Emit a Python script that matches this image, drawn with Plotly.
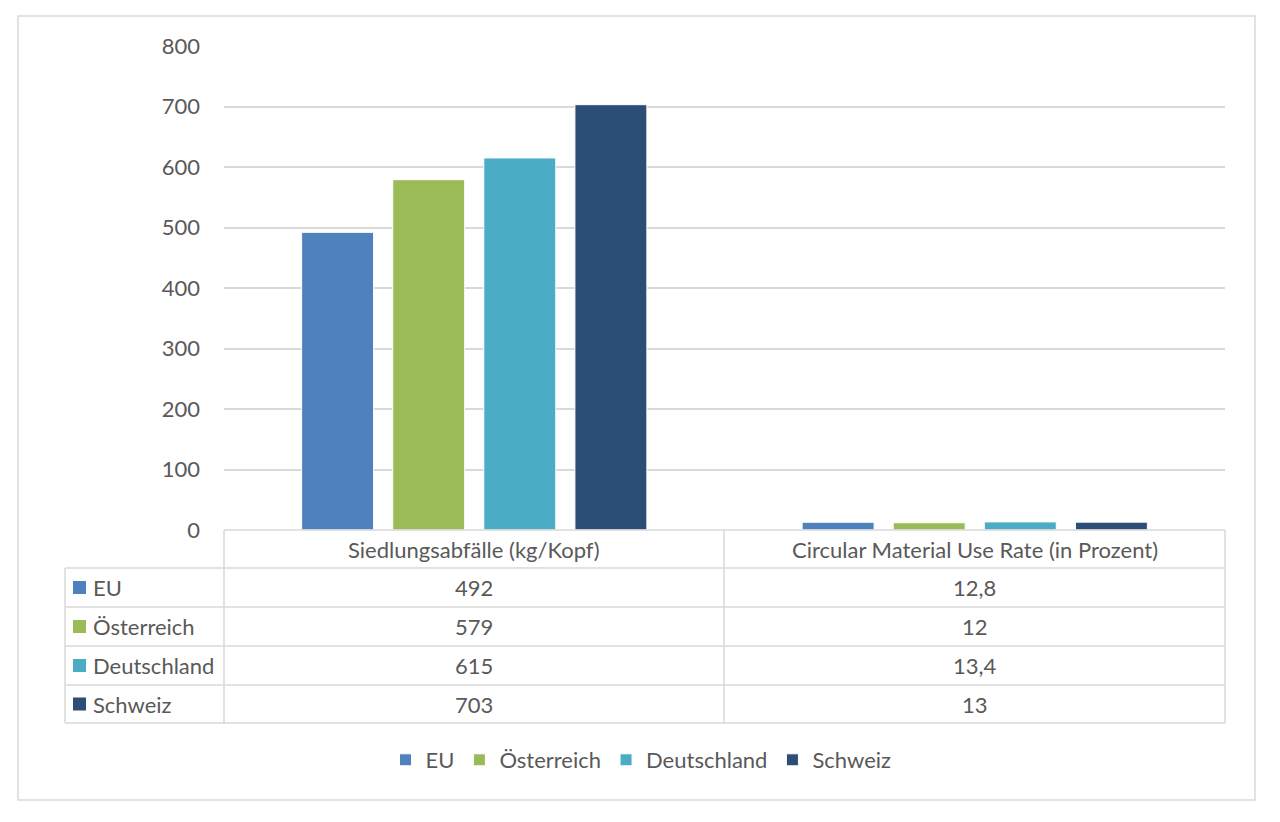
import plotly.graph_objects as go

# Daten aus der Grafik
kategorien = ["Siedlungsabfälle (kg/Kopf)", "Circular Material Use Rate (in Prozent)"]
laender = ["EU", "Österreich", "Deutschland", "Schweiz"]
eu = [492, 12.8]
oesterreich = [579, 12]
deutschland = [615, 13.4]
schweiz = [703, 13]
farben = ["#4f81bd", "#9bbb59", "#4bacc6", "#2c4d75"]

werte = [eu, oesterreich, deutschland, schweiz]

W, H = 1280, 822
OFF = 8  # Seitenrand des Browsers
PX0, PX1, PY0, PY1 = 224 - OFF, 1225 - OFF, 46 - OFF, 530 - OFF  # Plotbereich in Pixel
SCHRIFT = "Lato"
GR = 22
GRAU = "#595959"
LINIE = "#d9d9d9"


def px(x):
    return (x - OFF - PX0) / (PX1 - PX0)


def py(y):
    return (PY1 - (y - OFF)) / (PY1 - PY0)


def zahl(v):
    # deutsche Schreibweise mit Komma
    return str(v).replace(".", ",")


fig = go.Figure()
for name, w, f in zip(laender, werte, farben):
    fig.add_trace(go.Bar(x=kategorien, y=w, name=name,
                         marker=dict(color=f, line=dict(color="white", width=1))))

shapes = []
annos = []

# äußerer Rahmen
shapes.append(dict(type="rect", xref="paper", yref="paper",
                   x0=px(18), x1=px(1255), y0=py(800), y1=py(16),
                   line=dict(color=LINIE, width=1.5), layer="below"))

# Datentabelle
zeilen_y = [530, 568, 607, 646, 685, 723]
spalten_x = [224, 724, 1225]
for i, y in enumerate(zeilen_y):
    links = 224 if i == 0 else 65
    shapes.append(dict(type="line", xref="paper", yref="paper",
                       x0=px(links), x1=px(1225), y0=py(y), y1=py(y),
                       line=dict(color=LINIE, width=1.5)))
for x in spalten_x:
    shapes.append(dict(type="line", xref="paper", yref="paper",
                       x0=px(x), x1=px(x), y0=py(530), y1=py(723),
                       line=dict(color=LINIE, width=1.5)))
shapes.append(dict(type="line", xref="paper", yref="paper",
                   x0=px(65), x1=px(65), y0=py(568), y1=py(723),
                   line=dict(color=LINIE, width=1.5)))

# Spaltenköpfe
for j, k in enumerate(kategorien):
    mitte = (spalten_x[j] + spalten_x[j + 1]) / 2
    annos.append(dict(xref="paper", yref="paper", x=px(mitte), y=py(549),
                      text=k, showarrow=False, xanchor="center", yanchor="middle",
                      font=dict(family=SCHRIFT, size=GR, color=GRAU)))

# Zeilen
for i, (name, w, f) in enumerate(zip(laender, werte, farben)):
    ym = (zeilen_y[i + 1] + zeilen_y[i + 2]) / 2
    shapes.append(dict(type="rect", xref="paper", yref="paper",
                       x0=px(73), x1=px(86), y0=py(ym - 6.5), y1=py(ym + 6.5),
                       fillcolor=f, line=dict(width=0)))
    annos.append(dict(xref="paper", yref="paper", x=px(91), y=py(ym),
                      text=name, showarrow=False, xanchor="left", yanchor="middle",
                      font=dict(family=SCHRIFT, size=GR, color=GRAU)))
    for j, v in enumerate(w):
        mitte = (spalten_x[j] + spalten_x[j + 1]) / 2
        annos.append(dict(xref="paper", yref="paper", x=px(mitte), y=py(ym),
                          text=zahl(v), showarrow=False, xanchor="center", yanchor="middle",
                          font=dict(family=SCHRIFT, size=GR, color=GRAU)))

fig.update_layout(
    width=W, height=H,
    margin=dict(l=PX0, r=W - PX1, t=PY0, b=H - PY1),
    paper_bgcolor="white", plot_bgcolor="white",
    barmode="group", bargap=0.272, bargroupgap=0.21,
    font=dict(family=SCHRIFT, size=GR, color=GRAU),
    showlegend=True,
    legend=dict(orientation="h", x=px(641), xanchor="center", y=py(760), yanchor="middle",
                font=dict(family=SCHRIFT, size=GR, color=GRAU), itemwidth=30,
                traceorder="normal"),
    xaxis=dict(showticklabels=False, showgrid=False, zeroline=False, showline=False),
    yaxis=dict(range=[0, 800], dtick=100, showgrid=True, gridcolor=LINIE, gridwidth=1.5,
               zeroline=False, showline=False, ticks="", ticklabelstandoff=23,
               tickfont=dict(family=SCHRIFT, size=GR, color=GRAU)),
    shapes=shapes, annotations=annos,
)

fig.write_html("out.html")
